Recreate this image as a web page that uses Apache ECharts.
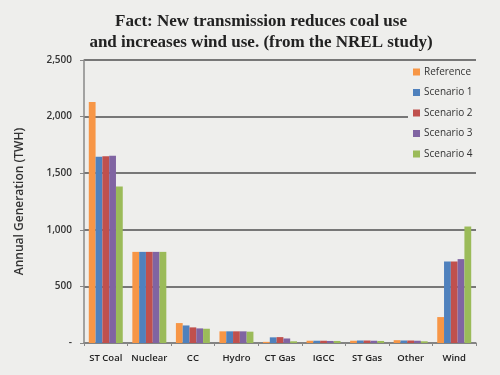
<!DOCTYPE html>
<html>
<head>
<meta charset="utf-8">
<script src="https://cdn.jsdelivr.net/npm/echarts@6/dist/echarts.min.js"></script>
<style>
  html, body { margin: 0; padding: 0; background: #eeeeec; }
  #chart { width: 500px; height: 375px; }
</style>
</head>
<body>
<div id="chart"></div>
<script>
// values (TWh)
const categories = ['ST Coal', 'Nuclear', 'CC', 'Hydro', 'CT Gas', 'IGCC', 'ST Gas', 'Other', 'Wind'];
const reference = [2130, 805, 176, 103, 10, 20, 20, 25, 229];
const scenario1 = [1646, 805, 155, 103, 50, 20, 22, 22, 720];
const scenario2 = [1650, 805, 138, 103, 52, 20, 22, 22, 720];
const scenario3 = [1655, 805, 129, 103, 40, 18, 20, 20, 741];
const scenario4 = [1382, 805, 126, 100, 15, 18, 18, 15, 1029];
const seriesNames = ['Reference', 'Scenario 1', 'Scenario 2', 'Scenario 3', 'Scenario 4'];
const colors = ['#f79646', '#4f81bd', '#c0504d', '#8064a2', '#9bbb59'];

const chart = echarts.init(document.getElementById('chart'), null, {renderer: 'canvas'});

const allData = [reference, scenario1, scenario2, scenario3, scenario4];

const option = {
  backgroundColor: '#eeeeec',
  color: colors,
  title: {
    text: 'Fact: New transmission reduces coal use\nand increases wind use. (from the NREL study)',
    left: 256,
    top: 6,
    textAlign: 'center',
    textStyle: {
      fontFamily: 'Liberation Serif',
      fontWeight: 'bold',
      fontSize: 17,
      lineHeight: 21,
      color: '#222'
    }
  },
  legend: {
    orient: 'vertical',
    left: 408,
    top: 64,
    itemWidth: 7,
    itemHeight: 7,
    itemGap: 10.5,
    icon: 'rect',
    backgroundColor: '#eeeeec',
    padding: [3, 6, 3, 5],
    textStyle: {fontFamily: 'Open Sans', fontSize: 10, color: '#333', padding: [0, 0, 0, -1]},
    data: seriesNames
  },
  grid: {left: 84, right: 24, top: 60, bottom: 32, containLabel: false},
  xAxis: {
    type: 'category',
    data: categories,
    axisLine: {lineStyle: {color: '#888', width: 1.5}},
    axisTick: {show: true, length: 3, lineStyle: {color: '#888'}},
    axisLabel: {interval: 0, fontFamily: 'Open Sans', fontWeight: 600, fontSize: 9.5, color: '#222', margin: 10}
  },
  yAxis: {
    type: 'value',
    min: 0,
    max: 2500,
    interval: 500,
    name: 'Annual Generation (TWH)',
    nameLocation: 'middle',
    nameGap: 58,
    nameTextStyle: {fontFamily: 'Open Sans', fontWeight: 600, fontSize: 12, color: '#333'},
    axisLine: {show: true, lineStyle: {color: '#888', width: 1.5}},
    axisTick: {show: true, length: 4, inside: false, lineStyle: {color: '#888'}},
    splitLine: {lineStyle: {color: '#777', width: 2}},
    axisLabel: {
      fontFamily: 'Open Sans', fontWeight: 600, fontSize: 10, color: '#333', margin: 12,
      formatter: v => v === 0 ? '-' : v.toLocaleString('en-US')
    }
  },
  series: seriesNames.map((name, i) => ({
    name: name,
    type: 'bar',
    data: allData[i],
    barGap: '0%',
    barCategoryGap: '22%'
  }))
};

chart.setOption(option);
</script>
</body>
</html>
